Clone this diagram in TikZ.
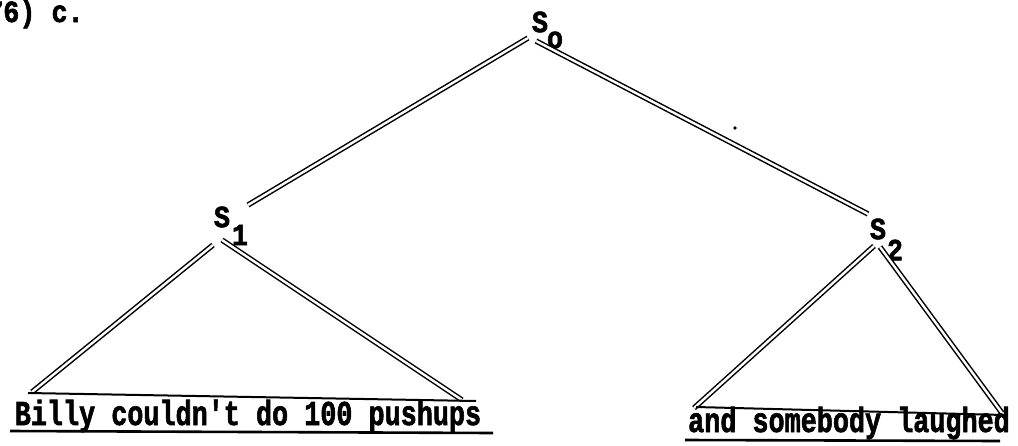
\documentclass[tikz,border=0pt]{standalone}
\usepackage{fontspec}
\newfontfamily\twfont{Liberation Mono Bold}[FakeBold=2]
\begin{document}
\begin{tikzpicture}[x=1pt,y=-1pt,
  tw/.style={font=\twfont\fontsize{26.8}{30}\selectfont, inner sep=0pt},
  leg/.style={double=white, double distance=2.4pt, line width=1.5pt, draw=black},
  baseline/.style={line width=2pt},
  uline/.style={line width=2.6pt}]
\useasboundingbox (0,0) rectangle (1018,445);

% heading (cut at the left edge)
\node[tw, anchor=base west] (head) at (-13,22) {\scalebox{1}[1.15]{76) c.}};

% category labels
\node[tw] (s0) at (540,22) {\scalebox{1}[1.15]{S}};
\node[tw] (s0sub) at (555,40) {\scalebox{1}[1.15]{o}};
\node[tw] (s1) at (222,217) {\scalebox{1}[1.15]{S}};
\node[tw] (s1sub) at (240,235) {\scalebox{1}[1.15]{1}};
\node[tw] (s2) at (878,229) {\scalebox{1}[1.15]{S}};
\node[tw] (s2sub) at (895,250) {\scalebox{1}[1.15]{2}};

% connector ends
\coordinate (s0l) at (528,38);
\coordinate (s0r) at (536,41);
\coordinate (s1t) at (248,205);
\coordinate (s2t) at (868,214);
\coordinate (s1a) at (213,245);
\coordinate (s1b) at (222,240);
\coordinate (s1L) at (32,392);
\coordinate (s1R) at (462,400);
\coordinate (b1l) at (28,393);
\coordinate (b1r) at (476,401);
\coordinate (s2a) at (874,246);
\coordinate (s2b) at (880,247);
\coordinate (s2L) at (694,408);
\coordinate (s2R) at (1002,413);
\coordinate (b2l) at (696,407);
\coordinate (b2r) at (1004,415);

\draw[leg] (s0l) -- (s1t);
\draw[leg] (s0r) -- (s2t);
\draw[leg] (s1a) -- (s1L);
\draw[leg] (s1b) -- (s1R);
\draw[leg] (s2a) -- (s2L);
\draw[leg] (s2b) -- (s2R);
\draw[baseline] (b1l) -- (b1r);
\draw[baseline] (b2l) -- (b2r);

% terminal strings
\node[tw, anchor=base] (t1) at (248,425) {\scalebox{1}[1.3]{Billy couldn't do 100 pushups}};
\node[tw, anchor=base] (t2) at (849,432) {\scalebox{1}[1.3]{and somebody laughed}};
\coordinate (u1l) at (10,431);
\coordinate (u1r) at (493,433);
\coordinate (u2l) at (685,440);
\coordinate (u2r) at (1000,441);
\draw[uline] (u1l) -- (u1r);
\draw[uline] (u2l) -- (u2r);

% speck
\fill (735,128) circle (1.8pt);
\end{tikzpicture}
\end{document}
